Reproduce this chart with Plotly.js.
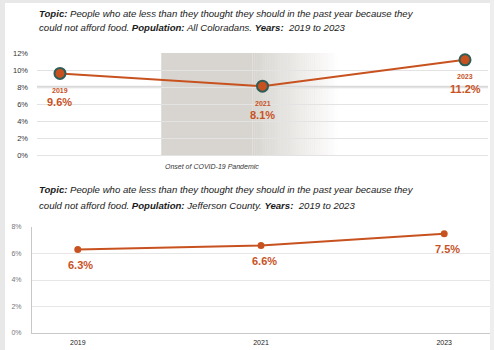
<!DOCTYPE html>
<html><head><meta charset="utf-8">
<script src="https://cdn.plot.ly/plotly-3.0.1.min.js"></script>
<style>html,body{margin:0;padding:0;background:#fff}#c{width:494px;height:350px}</style>
</head><body><div id="c"></div>
<script>
const years = [2019, 2021, 2023];
const coloradoValues = [9.6, 8.1, 11.2];
const jeffersonValues = [6.3, 6.6, 7.5];
const coloradoYearLabels = ['2019', '2021', '2023'];
const coloradoValueLabels = ['9.6%', '8.1%', '11.2%'];
const jeffersonValueLabels = ['6.3%', '6.6%', '7.5%'];
const xTickLabels = ['2019', '2021', '2023'];
const topTitle1 = '<b>Topic:</b> People who ate less than they thought they should in the past year because they';
const topTitle2 = 'could not afford food. <b>Population:</b> All Coloradans. <b>Years:</b>  2019 to 2023';
const botTitle1 = '<b>Topic:</b> People who ate less than they thought they should in the past year because they';
const botTitle2 = 'could not afford food. <b>Population:</b> Jefferson County. <b>Years:</b>  2019 to 2023';
const covidLabel = 'Onset of COVID-19 Pandemic';
const covidStart = 2020;

const W = 494, H = 350;
const ORANGE = '#c8521f';
const FONT = 'Liberation Sans, Arial, sans-serif';

const traces = [
  {x: years, y: coloradoValues, xaxis: 'x', yaxis: 'y', mode: 'lines+markers',
   line: {color: ORANGE, width: 2},
   marker: {size: 11, color: ORANGE, line: {color: '#2f5d57', width: 2}}, hoverinfo: 'skip'},
  {x: years, y: jeffersonValues, xaxis: 'x2', yaxis: 'y2', mode: 'lines+markers',
   line: {color: ORANGE, width: 2},
   marker: {size: 7, color: ORANGE}, hoverinfo: 'skip'}
];

const shapes = [];
const steps = 40, fadeStart = 2020.9, fadeEnd = 2021.75;
shapes.push({type: 'rect', xref: 'x', yref: 'y', x0: covidStart, x1: fadeStart, y0: 0, y1: 12,
  fillcolor: '#d8d5d0', line: {width: 0}, layer: 'below'});
for (let i = 0; i < steps; i++) {
  const a = fadeStart + (fadeEnd - fadeStart) * i / steps;
  const b = fadeStart + (fadeEnd - fadeStart) * (i + 1) / steps;
  const t = 1 - (i + 0.5) / steps;
  shapes.push({type: 'rect', xref: 'x', yref: 'y', x0: a, x1: b + 0.002, y0: 0, y1: 12,
    fillcolor: 'rgba(216,213,208,' + t.toFixed(3) + ')', line: {width: 0}, layer: 'below'});
}
shapes.push({type: 'line', xref: 'paper', yref: 'y', x0: 37 / W, x1: 488 / W, y0: 8, y1: 8,
  line: {color: 'rgba(205,205,205,0.75)', width: 2.5}, layer: 'below'});
shapes.push({type: 'rect', xref: 'paper', yref: 'paper', x0: 0, x1: 5 / W, y0: 0, y1: 1, fillcolor: '#e8e8e8', line: {width: 0}});
shapes.push({type: 'rect', xref: 'paper', yref: 'paper', x0: 0, x1: 1, y0: 1 - 3 / H, y1: 1, fillcolor: '#e8e8e8', line: {width: 0}});
shapes.push({type: 'rect', xref: 'paper', yref: 'paper', x0: 490 / W, x1: 1, y0: 0, y1: 1, fillcolor: '#eeeeee', line: {width: 0}});

const annotations = [];
function titleLine(text, yPx) {
  annotations.push({text: '<i>' + text + '</i>', xref: 'paper', yref: 'paper', x: 37 / W, y: 1 - yPx / H,
    xanchor: 'left', yanchor: 'middle', showarrow: false,
    font: {family: FONT, size: 9.6, color: '#1a1a1a', style: 'italic'}});
}
titleLine(topTitle1, 13);
titleLine(topTitle2, 28);
titleLine(botTitle1, 190);
titleLine(botTitle2, 206);

years.forEach((yr, i) => {
  annotations.push({text: '<b>' + coloradoYearLabels[i] + '</b>', x: yr, y: coloradoValues[i], xref: 'x', yref: 'y',
    showarrow: false, yshift: -17, font: {family: FONT, size: 7, color: ORANGE}});
  annotations.push({text: '<b>' + coloradoValueLabels[i] + '</b>', x: yr, y: coloradoValues[i], xref: 'x', yref: 'y',
    showarrow: false, yshift: -29, font: {family: FONT, size: 11, color: ORANGE}});
  annotations.push({text: '<b>' + jeffersonValueLabels[i] + '</b>', x: yr, y: jeffersonValues[i], xref: 'x2', yref: 'y2',
    showarrow: false, yshift: -15, xshift: 3, font: {family: FONT, size: 11, color: ORANGE}});
});
annotations.push({text: '<i>' + covidLabel + '</i>', x: covidStart, xref: 'x', xanchor: 'left', xshift: 2,
  y: 1 - 167 / H, yref: 'paper', yanchor: 'middle', showarrow: false,
  font: {family: FONT, size: 7, color: '#333', style: 'italic'}});

const layout = {
  width: W, height: H,
  margin: {l: 0, r: 0, t: 0, b: 0},
  paper_bgcolor: '#ffffff', plot_bgcolor: 'rgba(0,0,0,0)',
  showlegend: false,
  font: {family: FONT},
  xaxis: {domain: [37 / W, 488 / W], range: [2018.773, 2023.227], showticklabels: false,
    showgrid: false, zeroline: false, showline: false, ticks: ''},
  yaxis: {domain: [(H - 155) / H, (H - 53) / H], range: [0, 12], dtick: 2, ticksuffix: '%',
    gridcolor: '#e3e3e3', gridwidth: 1, zeroline: true, zerolinecolor: '#e3e3e3', showline: false,
    tickfont: {family: FONT, size: 7.5, color: '#333'}, ticklabelstandoff: 8, anchor: 'x'},
  xaxis2: {domain: [32 / W, 490 / W], range: [2018.5, 2023.5], tickvals: years, ticktext: xTickLabels,
    showgrid: false, zeroline: false, showline: true, linecolor: '#c8c8c8', linewidth: 1,
    tickfont: {family: FONT, size: 7, color: '#222'}, ticks: '', ticklabelstandoff: 3, anchor: 'y2'},
  yaxis2: {domain: [(H - 333) / H, (H - 227) / H], range: [0, 8], dtick: 2, ticksuffix: '%',
    gridcolor: '#e6e6e6', zeroline: false, showline: true, linecolor: '#c8c8c8', linewidth: 1,
    tickfont: {family: FONT, size: 7, color: '#777'}, ticklabelstandoff: 8, anchor: 'x2'},
  shapes: shapes,
  annotations: annotations
};
Plotly.newPlot('c', traces, layout, {displayModeBar: false, staticPlot: true});
</script></body></html>
